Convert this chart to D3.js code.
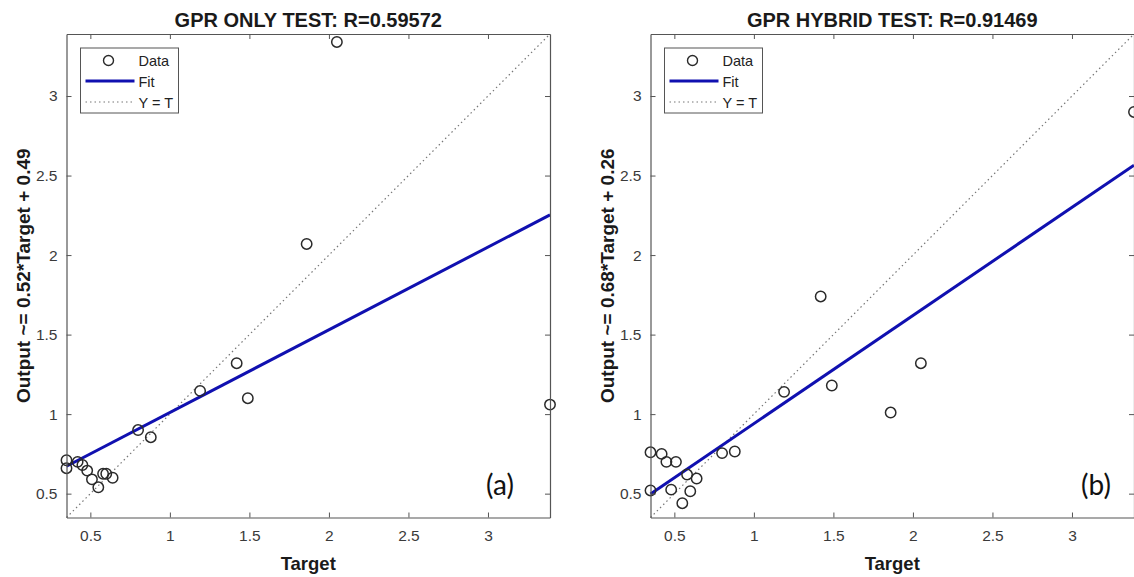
<!DOCTYPE html>
<html>
<head>
<meta charset="utf-8">
<script src="https://cdn.jsdelivr.net/npm/d3@7"></script>
<style>
  body { margin: 0; background: #fff; }
  svg { display: block; font-family: "Liberation Sans", Arial, sans-serif; }
</style>
</head>
<body>
<script>
// values
var targets       = [0.35, 0.35, 0.42, 0.45, 0.48, 0.51, 0.55, 0.58, 0.60, 0.64, 0.80, 0.88, 1.19, 1.42, 1.49, 1.86, 2.05, 3.39];
var outputsOnly   = [0.71, 0.66, 0.70, 0.68, 0.645, 0.59, 0.54, 0.625, 0.625, 0.60, 0.90, 0.855, 1.146, 1.32, 1.10, 2.07, 3.34, 1.06];
var outputsHybrid = [0.76, 0.52, 0.75, 0.70, 0.525, 0.70, 0.44, 0.62, 0.515, 0.595, 0.755, 0.765, 1.14, 1.74, 1.18, 1.01, 1.32, 2.90];

var titles   = ["GPR ONLY TEST: R=0.59572", "GPR HYBRID TEST: R=0.91469"];
var yLabels  = ["Output ~= 0.52*Target + 0.49", "Output ~= 0.68*Target + 0.26"];
var slopes   = [0.52, 0.68];
var offsets  = [0.49, 0.26];
var tags     = ["(a)", "(b)"];
var tickVals = [0.5, 1, 1.5, 2, 2.5, 3];
var tickText = ["0.5", "1", "1.5", "2", "2.5", "3"];
var axisLims = [0.35, 3.39];
var legendNames = ["Data", "Fit", "Y = T"];

var svg = d3.select("body").append("svg")
    .attr("width", 1134)
    .attr("height", 577);

// panel geometry
var panels = [
  {left: 66.5, data: outputsOnly, tagX: 500},
  {left: 650.5, data: outputsHybrid, tagX: 1096}
];
var plotTop = 34, size = 483.5;

panels.forEach(function(p, i) {
  var x = d3.scaleLinear().domain(axisLims).range([p.left, p.left + size]);
  var y = d3.scaleLinear().domain(axisLims).range([plotTop + size, plotTop]);
  var g = svg.append("g");

  // Y = T dotted line
  g.append("line")
      .attr("x1", x(axisLims[0])).attr("y1", y(axisLims[0]))
      .attr("x2", x(axisLims[1])).attr("y2", y(axisLims[1]))
      .attr("stroke", "#777").attr("stroke-width", 1.2)
      .attr("stroke-dasharray", "1.5,3");

  // fit line
  g.append("line")
      .attr("x1", x(axisLims[0])).attr("y1", y(slopes[i] * axisLims[0] + offsets[i]))
      .attr("x2", x(axisLims[1])).attr("y2", y(slopes[i] * axisLims[1] + offsets[i]))
      .attr("stroke", "#1010b0").attr("stroke-width", 3);

  // data circles
  g.selectAll(".pt")
      .data(targets.map(function(t, k) { return {t: t, o: p.data[k]}; }))
    .enter().append("circle")
      .attr("class", "pt")
      .attr("cx", function(d) { return x(d.t); })
      .attr("cy", function(d) { return y(d.o); })
      .attr("r", 5.2)
      .attr("fill", "none")
      .attr("stroke", "#2a2a2a")
      .attr("stroke-width", 1.5);

  // axes with inward ticks on all four sides
  var axB = g.append("g").attr("transform", "translate(0," + (plotTop + size) + ")")
      .call(d3.axisBottom(x).tickValues(tickVals).tickFormat(function(d, k) { return tickText[k]; }).tickSizeInner(-5).tickSizeOuter(0).tickPadding(12));
  var axL = g.append("g").attr("transform", "translate(" + p.left + ",0)")
      .call(d3.axisLeft(y).tickValues(tickVals).tickFormat(function(d, k) { return tickText[k]; }).tickSizeInner(-5).tickSizeOuter(0).tickPadding(9));
  var axT = g.append("g").attr("transform", "translate(0," + plotTop + ")")
      .call(d3.axisTop(x).tickValues(tickVals).tickFormat("").tickSizeInner(-5).tickSizeOuter(0));
  var axR = g.append("g").attr("transform", "translate(" + (p.left + size) + ",0)")
      .call(d3.axisRight(y).tickValues(tickVals).tickFormat("").tickSizeInner(-5).tickSizeOuter(0));
  [axB, axL, axT, axR].forEach(function(a) {
    a.select(".domain").attr("stroke", "#555").attr("stroke-width", 1.2);
    a.selectAll(".tick line").attr("stroke", "#555");
    a.selectAll(".tick text").attr("font-size", 15.5).attr("fill", "#3a3a3a")
      .attr("font-family", "Liberation Sans, Arial, sans-serif");
  });

  // title and labels
  g.append("text")
      .attr("x", p.left + size / 2).attr("y", 27)
      .attr("text-anchor", "middle")
      .attr("font-size", 20).attr("font-weight", "bold").attr("fill", "#1a1a1a")
      .text(titles[i]);
  g.append("text")
      .attr("x", p.left + size / 2).attr("y", 570)
      .attr("text-anchor", "middle")
      .attr("font-size", 18.5).attr("font-weight", "bold").attr("fill", "#1a1a1a")
      .text("Target");
  g.append("text")
      .attr("transform", "translate(" + (p.left - 37) + "," + (plotTop + size / 2) + ") rotate(-90)")
      .attr("text-anchor", "middle")
      .attr("font-size", 19).attr("font-weight", "bold").attr("fill", "#1a1a1a")
      .text(yLabels[i]);

  // panel tag
  g.append("text")
      .attr("x", p.tagX).attr("y", 495)
      .attr("text-anchor", "middle")
      .attr("font-family", "Lato, 'Open Sans', sans-serif")
      .attr("font-size", 28).attr("fill", "#111")
      .text(tags[i]);

  // legend
  var lg = g.append("g").attr("transform", "translate(" + (p.left + 14) + "," + (plotTop + 14) + ")");
  lg.append("rect").attr("width", 98).attr("height", 65)
      .attr("fill", "#fff").attr("stroke", "#555").attr("stroke-width", 1);
  lg.append("circle").attr("cx", 28).attr("cy", 12.5).attr("r", 5)
      .attr("fill", "none").attr("stroke", "#2a2a2a").attr("stroke-width", 1.4);
  lg.append("line").attr("x1", 5).attr("x2", 54).attr("y1", 33).attr("y2", 33)
      .attr("stroke", "#1010b0").attr("stroke-width", 3);
  lg.append("line").attr("x1", 5).attr("x2", 54).attr("y1", 54).attr("y2", 54)
      .attr("stroke", "#777").attr("stroke-width", 1.2).attr("stroke-dasharray", "1.5,3");
  lg.selectAll(".lt")
      .data(legendNames)
    .enter().append("text")
      .attr("class", "lt")
      .attr("x", 58)
      .attr("y", function(d, k) { return 18 + k * 21; })
      .attr("font-size", 14.5).attr("fill", "#222")
      .text(function(d) { return d; });
});
</script>
</body>
</html>
